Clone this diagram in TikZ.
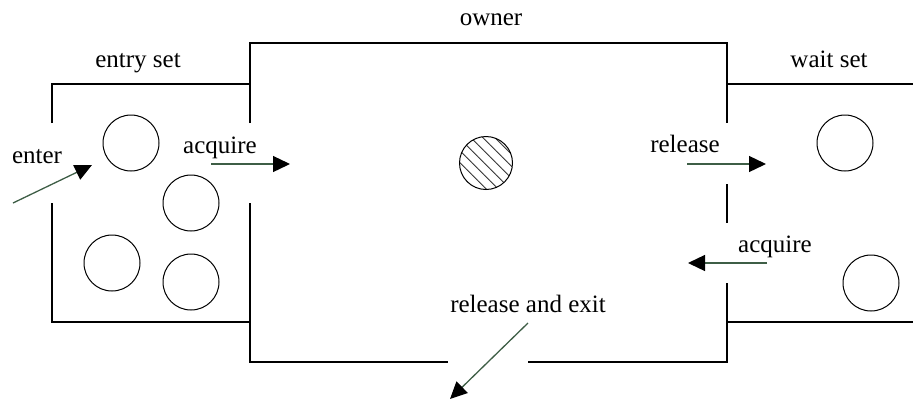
\documentclass[tikz,border=0pt]{standalone}
\usepackage{fontspec}
\setmainfont{Liberation Serif}
\usepackage{xcolor}
\usepackage{tikz}
\usetikzlibrary{arrows.meta,patterns.meta}
\definecolor{movegreen}{RGB}{62, 94, 70}
\tikzset{
 wall/.style={line width=1.2pt, draw=black},
 thread/.style={
 circle,
 draw=black,
 line width=1pt,
 minimum size=56pt,
 inner sep=0pt
 },
 holder/.style={
 thread,
 minimum size=53pt,
 pattern={Lines[angle=-45, distance=8.5pt, line width=0.8pt]},
 pattern color=black!80
 },
 roomtext/.style={anchor=base, inner sep=0pt, font=\fontsize{25}{30}\selectfont},
 movearrow/.style={-{Triangle[length=17pt, width=16pt, color=black]}, line width=1.3pt, draw=movegreen}
}

\begin{document}
\begin{tikzpicture}[x=1pt, y=-1pt]
 \useasboundingbox (0,0) rectangle (913,400);

 % owner room
 \draw[wall] (250,123) -- (250,43) -- (727,43) -- (727,123);
 \draw[wall] (250,203) -- (250,362) -- (448,362);
 \draw[wall] (528,362) -- (727,362) -- (727,283);
 \draw[wall] (727,184) -- (727,223);

 % entry set
 \draw[wall] (52,123) -- (52,84) -- (250,84);
 \draw[wall] (52,203) -- (52,322) -- (250,322);

 % wait set
 \draw[wall] (727,84) -- (913,84);
 \draw[wall] (727,322) -- (913,322);

 \node[roomtext] (owner) at (491,25) {owner};
 \node[roomtext] (entryset) at (138,67) {entry set};
 \node[roomtext] (waitset) at (829,67) {wait set};

 \node[thread] (e1) at (131,143) {};
 \node[thread] (e2) at (191,203) {};
 \node[thread] (e3) at (112,263) {};
 \node[thread] (e4) at (191,282) {};
 \node[holder] (own) at (486,163) {};
 \node[thread] (w1) at (845,143) {};
 \node[thread] (w2) at (871,283) {};

 \coordinate (enterA) at (13,203);
 \coordinate (enterB) at (92,165);
 \coordinate (getA) at (211,164);
 \coordinate (getB) at (290,164);
 \coordinate (relA) at (687,164);
 \coordinate (relB) at (766,164);
 \coordinate (backA) at (767,263);
 \coordinate (backB) at (688,263);
 \coordinate (exitA) at (528,323);
 \coordinate (exitB) at (450,399);

 \draw[movearrow] (enterA) -- (enterB);
 \draw[movearrow] (getA) -- (getB);
 \draw[movearrow] (relA) -- (relB);
 \draw[movearrow] (backA) -- (backB);
 \draw[movearrow] (exitA) -- (exitB);

 \node[roomtext] (enter) at (37,163) {enter};
 \node[roomtext] (getin) at (220,153) {acquire};
 \node[roomtext] (release) at (685,152) {release};
 \node[roomtext] (getback) at (775,252) {acquire};
 \node[roomtext] (leave) at (528,312) {release and exit};
\end{tikzpicture}
\end{document}
